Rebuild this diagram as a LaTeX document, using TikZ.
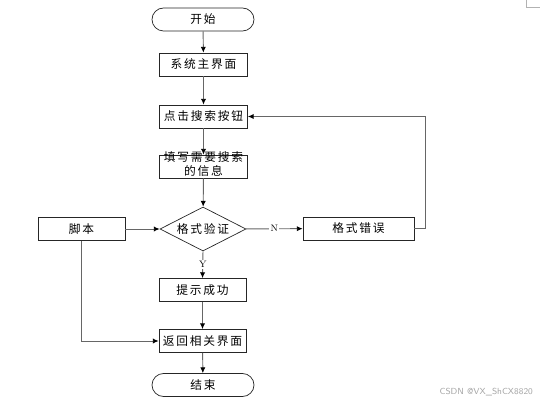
\documentclass[tikz,border=0pt]{standalone}
\usepackage{fontspec}
\newfontfamily\cjk[LetterSpace=15]{Noto Sans CJK SC}
\usetikzlibrary{shapes.geometric,arrows.meta}
\tikzset{
  stepbox/.style={draw=black!85,line width=0.6pt,minimum width=2.64cm,minimum height=0.69cm,inner sep=0pt,font=\cjk\fontsize{10}{12}\selectfont},
  termbox/.style={draw=black!85,line width=0.6pt,rounded corners=0.345cm,minimum width=3.06cm,minimum height=0.69cm,inner sep=0pt,font=\cjk\fontsize{10}{12}\selectfont},
  testbox/.style={draw=black!85,line width=0.6pt,diamond,aspect=1.95,minimum width=2.58cm,minimum height=1.32cm,inner sep=0pt,font=\cjk\fontsize{10}{12}\selectfont},
  flow/.style={draw=black!60,line width=0.8pt,-{Latex[length=5pt,width=4.5pt,black]}},
  yn/.style={fill=white,inner sep=1pt,font=\fontsize{8}{9}\selectfont}
}
\begin{document}
\begin{tikzpicture}[x=0.03cm,y=-0.03cm]
\useasboundingbox (0,0) rectangle (540,403);
\draw [black!30] (526,0) -- (526,7) -- (540,7);
\node [termbox] (start) at (203,19.5) {开始};
\node [stepbox] (main) at (203.5,64.5) {系统主界面};
\node [stepbox] (click) at (203.5,116.5) {点击搜索按钮};
\node [stepbox] (fill) at (203.5,166.5) {\raisebox{-0.27cm}[0pt][0pt]{\shortstack{填写需要搜索\\的信息}}};
\node [testbox] (check) at (203,229) {格式验证};
\node [stepbox,minimum width=2.61cm] (script) at (81.5,229) {脚本};
\node [stepbox,minimum width=3.33cm] (wrong) at (358.5,228.5) {格式错误};
\node [stepbox,minimum width=2.61cm] (ok) at (202.5,290) {提示成功};
\node [stepbox,minimum width=2.61cm] (back) at (202.5,341) {返回相关界面};
\node [termbox] (end) at (203,385) {结束};
\coordinate (loop) at (425,116.5);
\draw [flow] (start) -- (main);
\draw [flow] (main) -- (click);
\draw [flow] (click) -- (fill);
\draw [flow] (fill) -- (check);
\draw [flow] (script) -- (check);
\draw [flow] (check) -- node [yn] {N} (wrong);
\draw [flow] (wrong.east) -| (loop) -- (click.east);
\draw [flow] (check.south) -- node [yn] {Y} (ok.north);
\draw [flow] (ok) -- (back);
\draw [flow] (script.south) |- (back.west);
\draw [flow] (back) -- (end);
\node [text=black!35,font=\sffamily\fontsize{7.5}{8}\selectfont,anchor=east] (mark) at (537,392) {CSDN @VX\_ShCX8820};
\end{tikzpicture}
\end{document}
